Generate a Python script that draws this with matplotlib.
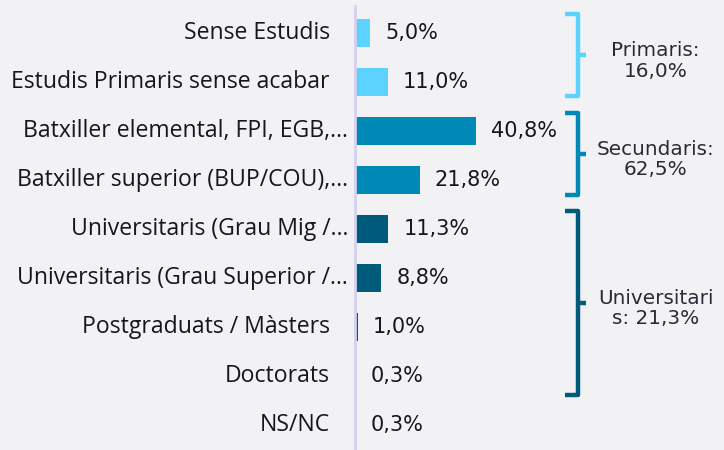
import matplotlib
matplotlib.use("Agg")
import matplotlib.pyplot as plt
import matplotlib.transforms as mtransforms

categories = [
    "Sense Estudis",
    "Estudis Primaris sense acabar",
    "Batxiller elemental, FPI, EGB,…",
    "Batxiller superior (BUP/COU),…",
    "Universitaris (Grau Mig /…",
    "Universitaris (Grau Superior /…",
    "Postgraduats / Màsters",
    "Doctorats",
    "NS/NC",
]
values = [5.0, 11.0, 40.8, 21.8, 11.3, 8.8, 1.0, 0.3, 0.3]
groups = ["Primaris", "Primaris", "Secundaris", "Secundaris",
          "Universitaris", "Universitaris", "Universitaris", "Universitaris", None]

group_names = ["Primaris", "Secundaris", "Universitaris"]
group_labels = ["Primaris:\n16,0%", "Secundaris:\n62,5%", "Universitari\ns: 21,3%"]
group_rows = [(0, 1), (2, 3), (4, 7)]

colors = {"Primaris": "#5cd3fe", "Secundaris": "#0088b6", "Universitaris": "#005a7a", None: "#005a7a"}
bg = "#f2f2f4"
text_color = "#16161f"

fig = plt.figure(figsize=(7.24, 4.5), dpi=100, facecolor=bg)
ax = fig.add_axes([355 / 724, 0, 369 / 724, 444 / 450])
ax.set_facecolor(bg)

y = list(range(len(categories)))
ax.barh(y, values, height=0.57, color=[colors[g] for g in groups], zorder=2)
ax.set_xlim(0, 124.5)
ax.set_ylim(8.503, -0.54)

for s in ["top", "right", "bottom"]:
    ax.spines[s].set_visible(False)
ax.spines["left"].set_color("#d2d2f2")
ax.spines["left"].set_linewidth(2)
ax.set_xticks([])
ax.set_yticks([])

# category labels
blend = mtransforms.blended_transform_factory(ax.transAxes, ax.transData)
for i, c in enumerate(categories):
    xpos = -0.019 if c.endswith("…") else -0.0678
    ax.text(xpos, i, c, ha="right", va="center", transform=blend,
            fontsize=16.6, family="Open Sans", color=text_color)

# value labels
for i, v in enumerate(values):
    lbl = f"{v:.1f}".replace(".", ",") + "%"
    ax.text(v + 5.1, i, lbl, ha="left", va="center", fontsize=15,
            family="DejaVu Sans", color=text_color)

# brackets
xl, xv, xt = 0.569, 0.604, 0.626
for name, lab, (a, b) in zip(group_names, group_labels, group_rows):
    top = a - 0.37
    bot = b + 0.3 if name != "Universitaris" else b + 0.38
    mid = (top + bot) / 2
    col = colors[name]
    ax.plot([xl, xv, xv, xl], [top, top, bot, bot], transform=blend, color=col,
            lw=3.2, solid_joinstyle="round", solid_capstyle="butt", clip_on=False)
    ax.plot([xv, xt], [mid, mid], transform=blend, color=col, lw=3.2,
            solid_capstyle="butt", clip_on=False)
    ax.text(0.815, mid + 0.12, lab, ha="center", va="center", transform=blend,
            fontsize=14.4, family="DejaVu Sans", color="#2a2a36", linespacing=1.1)

fig.savefig("out.png", dpi=100, facecolor=bg)
